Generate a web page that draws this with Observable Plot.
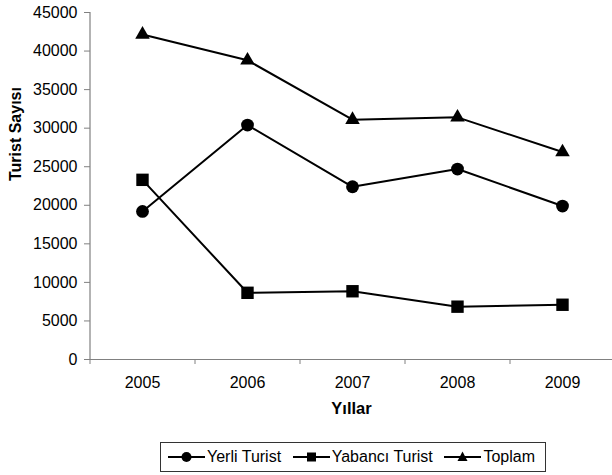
<!DOCTYPE html>
<html>
<head>
<meta charset="utf-8">
<script src="https://cdn.jsdelivr.net/npm/d3@7"></script>
<script src="https://cdn.jsdelivr.net/npm/@observablehq/plot@0.6"></script>
<style>
  body { margin: 0; background: #fff; font-family: "Liberation Sans", Arial, sans-serif; }
  #wrap { position: relative; width: 612px; height: 475px; overflow: hidden; }
  #legend {
    position: absolute; left: 160px; top: 442px; width: 367px; height: 28px;
    border: 1px solid #333; display: flex; align-items: center; justify-content: space-between;
    padding: 0 10px 0 7px; box-sizing: content-box; font-size: 16px; color: #000; white-space: nowrap;
  }
  #legend .item { display: flex; align-items: center; }
  #legend svg { margin-right: 2px; }
</style>
</head>
<body>
<div id="wrap"><div id="chart"></div><div id="legend"></div></div>
<script>
const years = [2005, 2006, 2007, 2008, 2009];
const yerliTurist = [19200, 30400, 22400, 24700, 19900];
const yabanciTurist = [23300, 8650, 8850, 6850, 7100];
const toplam = [42150, 38800, 31100, 31400, 26900];
const seriesNames = ["Yerli Turist", "Yabancı Turist", "Toplam"];
const yTicks = [0, 5000, 10000, 15000, 20000, 25000, 30000, 35000, 40000, 45000];
const xTitle = "Yıllar";
const yTitle = "Turist Sayısı";

const seriesValues = [yerliTurist, yabanciTurist, toplam];
const symbols = ["circle", "square", "triangle"];
const radii = [6.4, 7, 5.4];

const data = seriesNames.flatMap((s, i) => years.map((yr, j) => ({series: s, year: yr, value: seriesValues[i][j]})));
const boundaries = years.map(y => y - 0.5).concat([years[years.length - 1] + 0.5]);

const chart = Plot.plot({
  width: 612,
  height: 430,
  marginTop: 12,
  marginBottom: 71,
  marginLeft: 90,
  marginRight: 0,
  x: {domain: [years[0] - 0.5, years[years.length - 1] + 0.5], range: [89.5, 614.5]},
  y: {domain: [0, 45000], range: [359, 12]},
  style: {fontFamily: "'Liberation Sans', Arial, sans-serif", fontSize: "16px", color: "#000", background: "white", overflow: "visible"},
  marks: [
    Plot.axisY({ticks: yTicks, tickSize: 6, tickPadding: 7, tickFormat: d => String(d), stroke: "#808080", fill: "#000", fontSize: 16, label: null}),
    Plot.ruleX([years[0] - 0.5], {stroke: "#808080", strokeWidth: 1.2}),
    Plot.ruleY([0], {stroke: "#808080", strokeWidth: 1.2}),
    Plot.axisX({ticks: boundaries, tickSize: 5, tickFormat: () => "", stroke: "#808080", label: null}),
    Plot.axisX({ticks: years, tickSize: 0, tickPadding: 17, tickFormat: d => String(d), fill: "#000", fontSize: 16, label: null}),
    Plot.line(data, {x: "year", y: "value", z: "series", stroke: "#000", strokeWidth: 2}),
    ...seriesNames.map((s, i) => Plot.dot(data.filter(d => d.series === s), {x: "year", y: "value", symbol: symbols[i], r: radii[i], fill: "#000", stroke: "none"})),
    Plot.text([xTitle], {frameAnchor: "bottom", dy: 54, fontWeight: "bold", fontSize: 16.5, fill: "#000"}),
    Plot.text([yTitle], {frameAnchor: "left", dx: -75, dy: -5, rotate: -90, fontWeight: "bold", fontSize: 16, fill: "#000"})
  ]
});
document.getElementById("chart").appendChild(chart);

const legend = document.getElementById("legend");
const legendShapes = [
  '<circle cx="18.5" cy="8" r="5" fill="#000"/>',
  '<rect x="14" y="3.5" width="9" height="9" fill="#000"/>',
  '<path d="M18.5,2.5 L23.5,12 L13.5,12 Z" fill="#000"/>'
];
seriesNames.forEach((s, i) => {
  const item = document.createElement("div");
  item.className = "item";
  item.innerHTML = `<svg width="37" height="16"><line x1="0" y1="8" x2="37" y2="8" stroke="#000" stroke-width="2"/>${legendShapes[i]}</svg><span>${s}</span>`;
  legend.appendChild(item);
});
</script>
</body>
</html>
